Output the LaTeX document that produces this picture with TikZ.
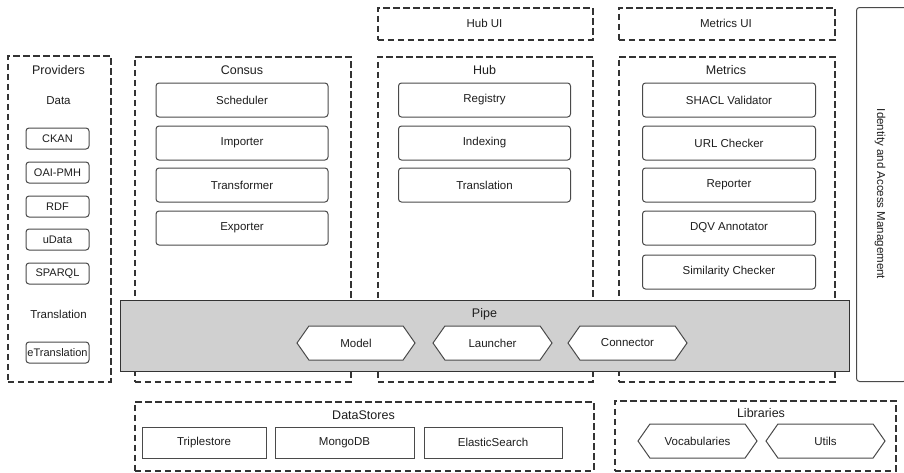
\documentclass[tikz,border=0pt]{standalone}
\usepackage{fontspec}
\setmainfont{Liberation Sans}
\usetikzlibrary{shapes.symbols}
\definecolor{dgray}{HTML}{333333}
\definecolor{mgray}{HTML}{4A4A4A}
\definecolor{pipegray}{HTML}{D0D0D0}
\definecolor{txt}{HTML}{1E1E1E}
\begin{document}
\begin{tikzpicture}[x=1pt,y=-1pt,
  grp/.style={draw=dgray, line width=1.5pt, dash pattern=on 6.5pt off 3.5pt, inner sep=0pt, anchor=north west},
  ttl/.style={text=txt, font=\fontsize{12.5}{14}\selectfont, inner sep=0pt},
  ibox/.style={draw=mgray, line width=1pt, rounded corners=3pt, fill=white, text=txt, font=\fontsize{11.5}{13}\selectfont, inner sep=0pt, minimum height=34pt},
  pbox/.style={draw=mgray, line width=1pt, rounded corners=3pt, fill=white, text=txt, font=\fontsize{11}{13}\selectfont, inner sep=0pt, minimum width=63pt, minimum height=21pt},
  sbox/.style={draw=mgray, line width=1pt, fill=white, text=txt, font=\fontsize{11.5}{13}\selectfont, inner sep=0pt, minimum height=31pt},
  hexa/.style={signal, signal to=west and east, signal pointer angle=110, draw=mgray, line width=1pt, fill=white, text=txt, font=\fontsize{11.5}{13}\selectfont, inner sep=0pt, minimum height=34pt},
  lbl/.style={text=txt, font=\fontsize{11.5}{13}\selectfont, inner sep=0pt}
]
\useasboundingbox (0,0) rectangle (904,472);
\fill[white] (0,0) rectangle (904,472);

% Providers
\node[grp, minimum width=103pt, minimum height=326pt] (prov) at (7,55) {};
\node[ttl] (provT) at (58.5,70) {Providers};
\node[lbl] (dataT) at (58.5,101) {Data};
\node[pbox] (ckan) at (57.5,138.5) {CKAN};
\node[pbox] (oai) at (57.5,172.5) {OAI-PMH};
\node[pbox] (rdf) at (57.5,206.5) {RDF};
\node[pbox] (udata) at (57.5,239.5) {uData};
\node[pbox] (sparql) at (57.5,273.5) {SPARQL};
\node[lbl] (transT) at (58.5,314) {Translation};
\node[pbox] (etrans) at (57.5,352.5) {eTranslation};

% UI boxes
\node[grp, minimum width=215pt, minimum height=32pt] (hubui) at (377,7) {};
\node[lbl] (hubuiT) at (484.5,23) {Hub UI};
\node[grp, minimum width=216pt, minimum height=32pt] (metui) at (618,7) {};
\node[lbl] (metuiT) at (726,23) {Metrics UI};

% Identity
\node[draw=mgray, line width=1pt, rounded corners=3pt, inner sep=0pt, anchor=north west, minimum width=50pt, minimum height=374pt] (iam) at (856,7) {};
\node[lbl, rotate=-90] (iamT) at (880,194) {Identity and Access Management};

% Consus
\node[grp, minimum width=216pt, minimum height=325pt] (consus) at (134,56) {};
\node[ttl] (consusT) at (242,70) {Consus};
\node[ibox, minimum width=172pt] (sched) at (242,100) {Scheduler};
\node[ibox, minimum width=172pt] (imp) at (242,143) {Importer};
\node[ibox, minimum width=172pt] (transf) at (242,185) {Transformer};
\node[ibox, minimum width=172pt] (exp) at (242,228) {Exporter};

% Hub
\node[grp, minimum width=215pt, minimum height=325pt] (hub) at (377,56) {};
\node[ttl] (hubT) at (484.5,70) {Hub};
\node[ibox, minimum width=172pt] (reg) at (484.5,100) {Registry};
\node[ibox, minimum width=172pt] (idx) at (484.5,143) {Indexing};
\node[ibox, minimum width=172pt] (htrans) at (484.5,185) {Translation};

% Metrics
\node[grp, minimum width=216pt, minimum height=325pt] (met) at (618,56) {};
\node[ttl] (metT) at (726,70) {Metrics};
\node[ibox, minimum width=173pt] (shacl) at (729,100) {SHACL Validator};
\node[ibox, minimum width=173pt] (url) at (729,143) {URL Checker};
\node[ibox, minimum width=173pt] (rep) at (729,185) {Reporter};
\node[ibox, minimum width=173pt] (dqv) at (729,228) {DQV Annotator};
\node[ibox, minimum width=173pt] (sim) at (729,272) {Similarity Checker};

% Pipe
\node[draw=dgray, line width=1.4pt, fill=pipegray, inner sep=0pt, anchor=north west, minimum width=729pt, minimum height=71pt] (pipe) at (120,300) {};
\node[ttl] (pipeT) at (484.5,314) {Pipe};
\node[hexa, minimum width=118pt] (model) at (356,343) {Model};
\node[hexa, minimum width=119pt] (launch) at (492.5,343) {Launcher};
\node[hexa, minimum width=119pt] (conn) at (627.5,343) {Connector};

% DataStores
\node[grp, minimum width=459pt, minimum height=69pt] (ds) at (134,401) {};
\node[ttl] (dsT) at (363.5,415) {DataStores};
\node[sbox, minimum width=124pt] (triple) at (204,442.5) {Triplestore};
\node[sbox, minimum width=139pt] (mongo) at (344.5,442.5) {MongoDB};
\node[sbox, minimum width=138pt] (elastic) at (493,442.5) {ElasticSearch};

% Libraries
\node[grp, minimum width=281pt, minimum height=70pt] (lib) at (614,400) {};
\node[ttl] (libT) at (761,413) {Libraries};
\node[hexa, minimum width=119pt] (vocab) at (697.5,441) {Vocabularies};
\node[hexa, minimum width=119pt] (utils) at (825.5,441) {Utils};
\end{tikzpicture}
\end{document}
